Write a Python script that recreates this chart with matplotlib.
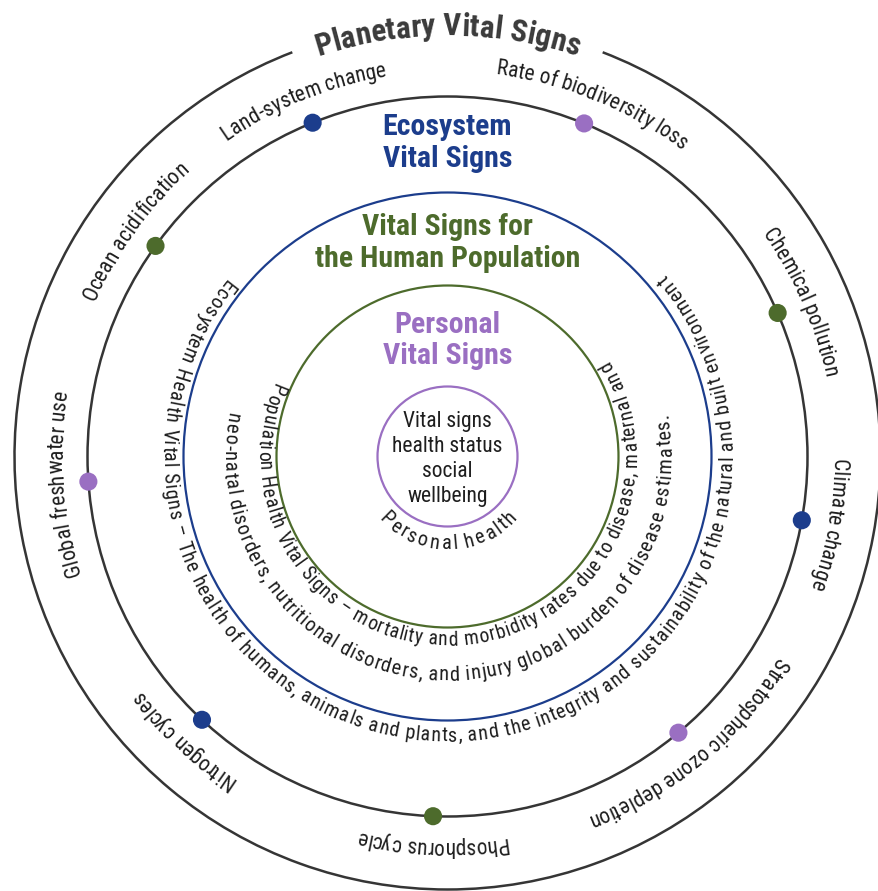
import numpy as np
import matplotlib
matplotlib.use("Agg")
import matplotlib.pyplot as plt
from matplotlib import font_manager as fm
from matplotlib.patches import Circle, Arc

# ---------------- data ----------------
title = "Planetary Vital Signs"
planet_labels = ["Land-system change", "Rate of biodiversity loss", "Chemical pollution",
                 "Climate change", "Stratospheric ozone depletion", "Phosphorus cycle",
                 "Nitrogen cycles", "Global freshwater use", "Ocean acidification"]
planet_angles = [112.0, 67.7, 23.5, -10.2, -50.1, -92.3, -133.0, -176.0, 144.2]
planet_groups = ["blue", "purple", "green", "blue", "purple", "green", "blue", "purple", "green"]

ecosystem_header = ["Ecosystem", "Vital Signs"]
population_header = ["Vital Signs for", "the Human Population"]
personal_header = ["Personal", "Vital Signs"]
center_lines = ["Vital signs", "health status", "social", "wellbeing"]

ecosystem_arc = ("Ecosystem Health Vital Signs \u2013 The health of humans, animals and plants, "
                 "and the integrity and sustainability of the natural and built environment")
population_arc1 = "Population Health Vital Signs \u2013 mortality and morbidity rates due to disease, maternal and"
population_arc2 = "neo-natal disorders, nutritional disorders, and injury global burden of disease estimates."
personal_arc = "Personal health"

# ---------------- style ----------------
COLORS = {"blue": "#1c3d8c", "green": "#4d6b2c", "purple": "#9a6fc2"}
GRAY = "#353535"
TXT = "#1e1e1e"

available = {f.name for f in fm.fontManager.ttflist}
FAMILY = next(f for f in ["Liberation Sans Narrow", "Roboto Condensed", "Arial Narrow",
                          "Roboto", "Liberation Sans", "DejaVu Sans"] if f in available)


def fprop(size, weight="normal"):
    return fm.FontProperties(family=FAMILY, size=size, weight=weight)


fig = plt.figure(figsize=(8.79, 8.91), dpi=100)
ax = fig.add_axes([0, 0, 1, 1])
ax.set_xlim(-447.5, 431.5)
ax.set_ylim(-434.5, 456.5)
ax.set_aspect("equal")
ax.axis("off")
renderer = fig.canvas.get_renderer()

R_OUT, R_DOT, R_BLUE, R_GREEN, R_PURP = 433, 360, 264, 171, 70

# circles
ax.add_patch(Arc((0, 0), 2 * R_OUT, 2 * R_OUT, theta1=111, theta2=429, color=GRAY, lw=1.8))
ax.add_patch(Circle((0, 0), R_DOT, fill=False, ec=GRAY, lw=1.8))
ax.add_patch(Circle((0, 0), R_BLUE, fill=False, ec=COLORS["blue"], lw=1.6))
ax.add_patch(Circle((0, 0), R_GREEN, fill=False, ec=COLORS["green"], lw=1.6))
ax.add_patch(Circle((0, 0), R_PURP, fill=False, ec=COLORS["purple"], lw=1.6))


def advances(s, fp):
    base = renderer.get_text_width_height_descent("HH", fp, ismath=False)[0]
    cache = {}
    out = []
    for c in s:
        if c not in cache:
            cache[c] = renderer.get_text_width_height_descent("H" + c + "H", fp, ismath=False)[0] - base
        out.append(cache[c])
    return np.array(out)


def fit_size(s, radius, span, weight="normal", base=12.0):
    total = advances(s, fprop(base, weight)).sum()
    return base * abs(np.radians(span[1] - span[0])) * radius / total


def arc_text(s, radius, fp, color, direction, mid=None, span=None):
    adv = advances(s, fp)
    total = adv.sum()
    centers = np.cumsum(adv) - adv / 2
    sign = -1 if direction == "cw" else 1
    if span is not None:
        a0, a1 = np.radians(span[0]), np.radians(span[1])
        thetas = a0 + (a1 - a0) * centers / total
    else:
        m = np.radians(mid)
        thetas = m + sign * (centers - total / 2) / radius
    for c, th in zip(s, thetas):
        if c == " ":
            continue
        rot = np.degrees(th) - 90 if direction == "cw" else np.degrees(th) + 90
        ax.text(radius * np.cos(th), radius * np.sin(th), c, fontproperties=fp, color=color,
                rotation=rot, rotation_mode="anchor", ha="center", va="baseline")


def fitted_arc(s, radius, span, shrink=0.9, color=TXT, weight="normal", direction="ccw"):
    size = fit_size(s, radius, span, weight) * shrink
    arc_text(s, radius, fprop(size, weight), color, direction, span=span)


# dots on the planetary ring
ang = np.radians(planet_angles)
ax.scatter(R_DOT * np.cos(ang), R_DOT * np.sin(ang), s=170,
           c=[COLORS[g] for g in planet_groups], zorder=5, linewidths=0)

# planetary labels
for lab, a in zip(planet_labels, planet_angles):
    arc_text(lab, 385, fprop(15.5), TXT, "cw", mid=a)

# title on the outer ring
arc_text(title, 421, fprop(22.5, "bold"), "#3a3a3a", "cw", mid=90)

# inner curved texts (read counter-clockwise, tops toward centre)
fitted_arc(ecosystem_arc, 285, (141, 400))
fitted_arc(population_arc1, 189, (156.5, 391))
fitted_arc(population_arc2, 224, (168.5, 371.5))
arc_text(personal_arc, 93, fprop(14.8), TXT, "ccw", span=(221, 320))

# headers
HSIZE = 21.5
ax.text(0, 313.5, "\n".join(ecosystem_header), fontproperties=fprop(HSIZE, "bold"),
        color=COLORS["blue"], ha="center", va="center", linespacing=1.15)
ax.text(0, 213.5, "\n".join(population_header), fontproperties=fprop(HSIZE, "bold"),
        color=COLORS["green"], ha="center", va="center", linespacing=1.15)
ax.text(0, 116, "\n".join(personal_header), fontproperties=fprop(HSIZE, "bold"),
        color=COLORS["purple"], ha="center", va="center", linespacing=1.15)

# centre text
gap = 25
y0 = 34.5
for i, line in enumerate(center_lines):
    ax.text(0, y0 - i * gap, line, fontproperties=fprop(15.5), color=TXT,
            ha="center", va="center")

fig.savefig("out.png", dpi=100, facecolor="white")
